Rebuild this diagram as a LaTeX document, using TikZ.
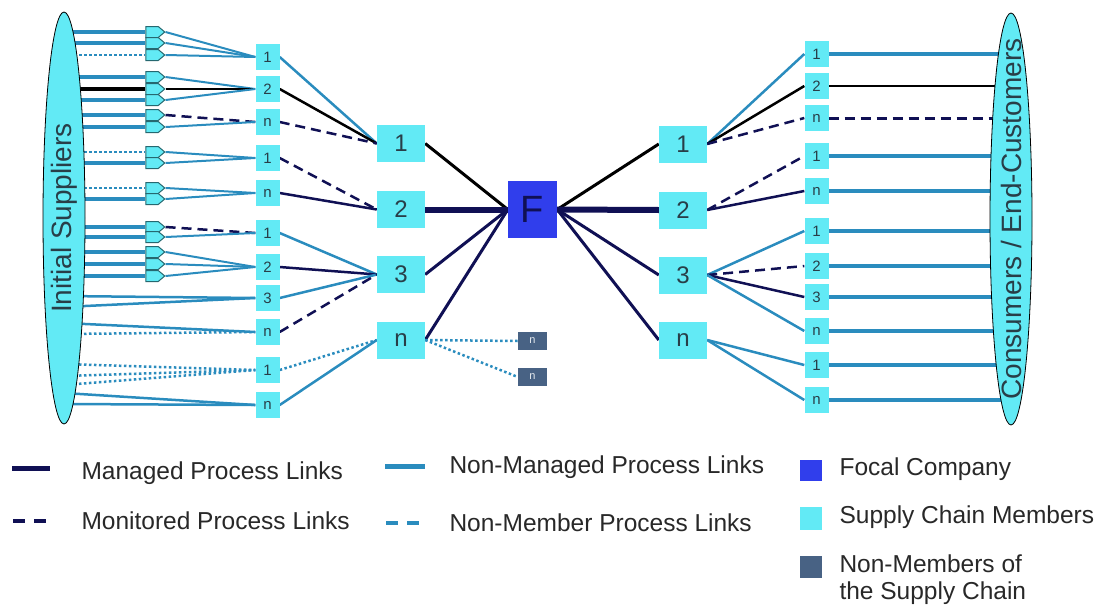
\documentclass[tikz,border=0pt]{standalone}
\usepackage{fontspec}
\setmainfont{Liberation Sans}
\usetikzlibrary{shapes.geometric,shapes.symbols,backgrounds}

\definecolor{member}{RGB}{98,234,245}
\definecolor{focal}{RGB}{48,62,236}
\definecolor{outsider}{RGB}{72,98,132}
\definecolor{linkblue}{RGB}{42,140,190}
\definecolor{navy}{RGB}{16,16,84}
\definecolor{tagedge}{RGB}{38,104,112}
\definecolor{boxtext}{RGB}{40,62,72}
\definecolor{legendtext}{RGB}{40,40,40}

\tikzset{
  small/.style = {fill=member, minimum width=24pt, minimum height=26pt, inner sep=0pt,
    font=\fontsize{15}{15}\selectfont, text=boxtext},
  mid/.style = {fill=member, minimum width=48pt, minimum height=37pt, inner sep=0pt,
    font=\fontsize{24}{24}\selectfont, text=boxtext},
  tag/.style = {signal, signal to=east, signal pointer angle=80, draw=tagedge, line width=1pt,
    fill=member, minimum width=19pt, minimum height=11pt, inner sep=0pt},
  party/.style = {ellipse, draw=black, line width=0.8pt, fill=member, minimum width=42pt,
    minimum height=412pt, inner sep=0pt},
  managed/.style = {draw=navy, line width=2.5pt},
  monitored/.style = {draw=navy, line width=2.5pt, dash pattern=on 10pt off 6pt},
  nonmanaged/.style = {draw=linkblue, line width=2pt},
  nonmember/.style = {draw=linkblue, line width=2.5pt, dash pattern=on 2.5pt off 2.5pt},
  direct/.style = {draw=black, line width=2.5pt},
  key/.style = {anchor=west, text=legendtext, font=\fontsize{24.5}{27}\selectfont, align=left}
}

\begin{document}
\begin{tikzpicture}[x=1pt, y=-1pt]
\useasboundingbox (0,0) rectangle (1099,605);

% end parties
\node[party] (sup) at (64,218) {};
\node[rotate=90, font=\fontsize{28}{28}\selectfont, text=boxtext] (suptext) at (sup) {Initial Suppliers};
\node[party] (cons) at (1011,219) {};
\node[rotate=90, font=\fontsize{28}{28}\selectfont, text=boxtext] (constext) at (cons) {Consumers / End-Customers};

% supplier tags
\node[tag] (p1) at (152,32) {};
\node[tag] (p2) at (152,43) {};
\node[tag] (p3) at (152,55) {};
\node[tag] (p4) at (152,77) {};
\node[tag] (p5) at (152,89) {};
\node[tag] (p6) at (152,100) {};
\node[tag] (p7) at (152,115) {};
\node[tag] (p8) at (152,127) {};
\node[tag] (p9) at (152,152) {};
\node[tag] (p10) at (152,163) {};
\node[tag] (p11) at (152,188) {};
\node[tag] (p12) at (152,199) {};
\node[tag] (p13) at (152,227) {};
\node[tag] (p14) at (152,237) {};
\node[tag] (p15) at (152,252) {};
\node[tag] (p16) at (152,264) {};
\node[tag] (p17) at (152,276) {};

% tier 2 suppliers
\node[small] (a1) at (267.5,57) {1};
\node[small] (a2) at (267.5,89) {2};
\node[small] (a3) at (267.5,122) {n};
\node[small] (a4) at (267.5,158) {1};
\node[small] (a5) at (267.5,193) {n};
\node[small] (a6) at (267.5,233) {1};
\node[small] (a7) at (267.5,267) {2};
\node[small] (a8) at (267.5,298) {3};
\node[small] (a9) at (267.5,332) {n};
\node[small] (a10) at (267.5,370) {1};
\node[small] (a11) at (267.5,405) {n};

% tier 1 suppliers
\node[mid] (L1) at (401,143.5) {1};
\node[mid] (L2) at (401,209.5) {2};
\node[mid] (L3) at (401,274.5) {3};
\node[mid] (Ln) at (401,340) {n};

% focal company and non-members
\node[fill=focal, minimum width=49pt, minimum height=57pt, inner sep=0pt,
  font=\fontsize{38}{38}\selectfont, text=navy] (F) at (532.5,209.5) {F};
\node[fill=outsider, minimum width=29pt, minimum height=18pt, inner sep=0pt,
  font=\fontsize{11}{11}\selectfont, text=white!85!outsider] (x1) at (532.5,341) {n};
\node[fill=outsider, minimum width=29pt, minimum height=18pt, inner sep=0pt,
  font=\fontsize{11}{11}\selectfont, text=white!85!outsider] (x2) at (532.5,377) {n};

% tier 1 customers
\node[mid] (R1) at (683,144) {1};
\node[mid] (R2) at (683,210) {2};
\node[mid] (R3) at (683,275) {3};
\node[mid] (Rn) at (683,340) {n};

% tier 2 customers
\node[small] (b1) at (816.5,54) {1};
\node[small] (b2) at (816.5,86) {2};
\node[small] (b3) at (816.5,118) {n};
\node[small] (b4) at (816.5,156) {1};
\node[small] (b5) at (816.5,191) {n};
\node[small] (b6) at (816.5,231) {1};
\node[small] (b7) at (816.5,266) {2};
\node[small] (b8) at (816.5,297) {3};
\node[small] (b9) at (816.5,331) {n};
\node[small] (b10) at (816.5,365) {1};
\node[small] (b11) at (816.5,400) {n};

% loose supplier ends
\coordinate (s1) at (64,296);
\coordinate (s2) at (64,307);
\coordinate (s3) at (64,323);
\coordinate (s4) at (64,334);
\coordinate (s5) at (64,364);
\coordinate (s6) at (64,376);
\coordinate (s7) at (64,385);
\coordinate (s8) at (64,393);
\coordinate (s9) at (64,404);

\begin{scope}[on background layer]
% initial suppliers to tags
\draw[nonmanaged, line width=4.5pt] (sup.center |- p1) -- (p1.west);
\draw[nonmanaged, line width=4.5pt] (sup.center |- p2) -- (p2.west);
\draw[nonmember] (sup.center |- p3) -- (p3.west);
\draw[nonmanaged, line width=4.5pt] (sup.center |- p4) -- (p4.west);
\draw[direct, line width=4.5pt] (sup.center |- p5) -- (p5.west);
\draw[nonmanaged, line width=4.5pt] (sup.center |- p6) -- (p6.west);
\draw[nonmanaged, line width=4.5pt] (sup.center |- p7) -- (p7.west);
\draw[nonmanaged, line width=4.5pt] (sup.center |- p8) -- (p8.west);
\draw[nonmember] (sup.center |- p9) -- (p9.west);
\draw[nonmanaged, line width=4.5pt] (sup.center |- p10) -- (p10.west);
\draw[nonmember] (sup.center |- p11) -- (p11.west);
\draw[nonmanaged, line width=4.5pt] (sup.center |- p12) -- (p12.west);
\draw[nonmanaged, line width=4.5pt] (sup.center |- p13) -- (p13.west);
\draw[nonmanaged, line width=4.5pt] (sup.center |- p14) -- (p14.west);
\draw[nonmanaged, line width=4.5pt] (sup.center |- p15) -- (p15.west);
\draw[nonmanaged, line width=4.5pt] (sup.center |- p16) -- (p16.west);
\draw[nonmanaged, line width=4.5pt] (sup.center |- p17) -- (p17.west);

% tags to tier 2
\draw[nonmanaged] (p1.east) -- (a1.west);
\draw[nonmanaged] (p2.east) -- (a1.west);
\draw[nonmanaged] (p3.east) -- (a1.west);
\draw[nonmanaged] (p4.east) -- (a2.west);
\draw[direct] (p5.east) -- (a2.west);
\draw[nonmanaged] (p6.east) -- (a2.west);
\draw[monitored] (p7.east) -- (a3.west);
\draw[nonmanaged] (p8.east) -- (a3.west);
\draw[nonmanaged] (p9.east) -- (a4.west);
\draw[nonmanaged] (p10.east) -- (a4.west);
\draw[nonmanaged] (p11.east) -- (a5.west);
\draw[nonmanaged] (p12.east) -- (a5.west);
\draw[monitored] (p13.east) -- (a6.west);
\draw[nonmanaged] (p14.east) -- (a6.west);
\draw[nonmanaged] (p15.east) -- (a7.west);
\draw[nonmanaged] (p16.east) -- (a7.west);
\draw[nonmanaged] (p17.east) -- (a7.west);

% initial suppliers straight to tier 2
\draw[nonmanaged, line width=2.5pt] (s1) -- (a8.west);
\draw[nonmanaged, line width=2.5pt] (s2) -- (a8.west);
\draw[nonmanaged, line width=2.5pt] (s3) -- (a9.west);
\draw[nonmember] (s4) -- (a9.west);
\draw[nonmember] (s5) -- (a10.west);
\draw[nonmember] (s6) -- (a10.west);
\draw[nonmember] (s7) -- (a10.west);
\draw[nonmanaged, line width=2.5pt] (s8) -- (a11.west);
\draw[nonmanaged, line width=2.5pt] (s9) -- (a11.west);

% tier 2 to tier 1
\draw[nonmanaged, line width=2.5pt] (a1.east) -- (L1.west);
\draw[direct] (a2.east) -- (L1.west);
\draw[monitored] (a3.east) -- (L1.west);
\draw[monitored] (a4.east) -- (L2.west);
\draw[managed] (a5.east) -- (L2.west);
\draw[nonmanaged, line width=2.5pt] (a6.east) -- (L3.west);
\draw[managed] (a7.east) -- (L3.west);
\draw[nonmanaged, line width=2.5pt] (a8.east) -- (L3.west);
\draw[monitored] (a9.east) -- (L3.west);
\draw[nonmember] (a10.east) -- (Ln.west);
\draw[nonmanaged, line width=2.5pt] (a11.east) -- (Ln.west);

% around the focal company
\draw[direct, line width=3pt] (L1.east) -- (F.west);
\draw[managed, line width=6pt] (L2.east) -- (F.west);
\draw[managed, line width=3pt] (L3.east) -- (F.west);
\draw[managed, line width=3pt] (Ln.east) -- (F.west);
\draw[nonmember] (Ln.east) -- (x1.west);
\draw[nonmember] (Ln.east) -- (x2.west);
\draw[direct, line width=3pt] (F.east) -- (R1.west);
\draw[managed, line width=6pt] (F.east) -- (R2.west);
\draw[managed, line width=3pt] (F.east) -- (R3.west);
\draw[managed, line width=3pt] (F.east) -- (Rn.west);

% tier 1 to tier 2 customers
\draw[nonmanaged, line width=2.5pt] (R1.east) -- (b1.west);
\draw[direct] (R1.east) -- (b2.west);
\draw[monitored] (R1.east) -- (b3.west);
\draw[monitored] (R2.east) -- (b4.west);
\draw[managed] (R2.east) -- (b5.west);
\draw[nonmanaged, line width=2.5pt] (R3.east) -- (b6.west);
\draw[monitored] (R3.east) -- (b7.west);
\draw[managed] (R3.east) -- (b8.west);
\draw[nonmanaged, line width=2.5pt] (R3.east) -- (b9.west);
\draw[nonmanaged, line width=2.5pt] (Rn.east) -- (b10.west);
\draw[nonmanaged, line width=2.5pt] (Rn.east) -- (b11.west);

% tier 2 customers to end-customers
\draw[nonmanaged, line width=4pt] (b1.east) -- (cons.center |- b1);
\draw[direct] (b2.east) -- (cons.center |- b2);
\draw[monitored, line width=3pt] (b3.east) -- (cons.center |- b3);
\draw[nonmanaged, line width=3.5pt] (b4.east) -- (cons.center |- b4);
\draw[nonmanaged, line width=3.5pt] (b5.east) -- (cons.center |- b5);
\draw[nonmanaged, line width=4pt] (b6.east) -- (cons.center |- b6);
\draw[nonmanaged, line width=4pt] (b7.east) -- (cons.center |- b7);
\draw[nonmanaged, line width=4pt] (b8.east) -- (cons.center |- b8);
\draw[nonmanaged, line width=4pt] (b9.east) -- (cons.center |- b9);
\draw[nonmanaged, line width=4pt] (b10.east) -- (cons.center |- b10);
\draw[nonmanaged, line width=4pt] (b11.east) -- (cons.center |- b11);
\end{scope}

% legend
\coordinate (k1a) at (12,468);
\coordinate (k1b) at (50,468);
\coordinate (k2a) at (13,521);
\coordinate (k2b) at (50,521);
\coordinate (k3a) at (385,466);
\coordinate (k3b) at (425,466);
\coordinate (k4a) at (386,523);
\coordinate (k4b) at (425,523);
\draw[managed, line width=5pt] (k1a) -- (k1b);
\draw[managed, line width=3.5pt, dash pattern=on 12pt off 9pt] (k2a) -- (k2b);
\draw[nonmanaged, line width=5pt] (k3a) -- (k3b);
\draw[nonmanaged, line width=3.5pt, dash pattern=on 12pt off 9pt] (k4a) -- (k4b);
\node[key] (t1) at (78,473) {Managed Process Links};
\node[key] (t2) at (78,521) {Monitored Process Links};
\node[key] (t3) at (446,467) {Non-Managed Process Links};
\node[key] (t4) at (446,523) {Non-Member Process Links};

\node[fill=focal, minimum width=22pt, minimum height=21pt, inner sep=0pt] (q1) at (811,470) {};
\node[fill=member, minimum width=22pt, minimum height=23pt, inner sep=0pt] (q2) at (811,518) {};
\node[fill=outsider, minimum width=22pt, minimum height=22pt, inner sep=0pt] (q3) at (811,567) {};
\node[key] (t5) at (836,469) {Focal Company};
\node[key] (t6) at (836,517) {Supply Chain Members};
\node[key] (t7) at (836,580) {Non-Members of\\the Supply Chain};
\end{tikzpicture}
\end{document}
